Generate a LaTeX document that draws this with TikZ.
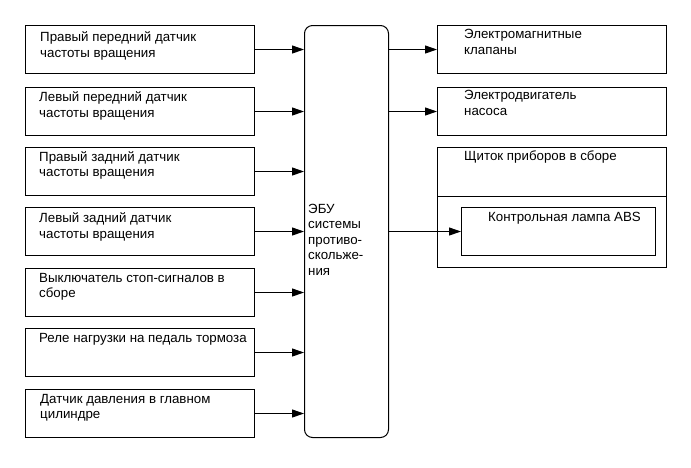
\documentclass[tikz,border=0pt]{standalone}
\usepackage{fontspec}
\setmainfont{Liberation Sans}
\usetikzlibrary{arrows.meta}
\begin{document}
\begin{tikzpicture}[x=1pt,y=-1pt,
  box/.style={draw,line width=1pt,minimum width=229pt,minimum height=48pt,anchor=north west,inner sep=0pt},
  txt/.style={anchor=base west,inner sep=0pt,align=left,font=\fontsize{13.3}{15.5}\selectfont},
  link/.style={line width=1pt,-{Triangle[length=12pt,width=8pt]}}]
\useasboundingbox[fill=white] (0,0) rectangle (691,467);
% inputs (text placed at baseline of last line)
\node[box] (rfs) at (25,25) {};
\node[txt] (rfst) at (40,57) {Правый передний датчик\\частоты вращения};
\node[box] (lfs) at (25,87) {};
\node[txt] (lfst) at (39,117) {Левый передний датчик\\частоты вращения};
\node[box] (rrs) at (25,147) {};
\node[txt] (rrst) at (39,176.5) {Правый задний датчик\\частоты вращения};
\node[box] (lrs) at (25,207) {};
\node[txt] (lrst) at (39,238) {Левый задний датчик\\частоты вращения};
\node[box] (stop) at (25,268) {};
\node[txt] (stopt) at (39,297.5) {Выключатель стоп-сигналов в\\сборе};
\node[box] (relay) at (25,328) {};
\node[txt] (relayt) at (39,342) {Реле нагрузки на педаль тормоза};
\node[box] (mcyl) at (25,389) {};
\node[txt] (mcylt) at (40,418.5) {Датчик давления в главном\\цилиндре};
% ECU
\node[draw,line width=1pt,rounded corners=8pt,minimum width=84pt,minimum height=412pt,anchor=north west] (ecu) at (304,25) {};
\node[txt] (ecut) at (308,275) {ЭБУ\\системы\\противо-\\скольже-\\ния};
% outputs
\node[box] (valves) at (437,25) {};
\node[txt] (valvest) at (464,54) {Электромагнитные\\клапаны};
\node[box] (pump) at (437,87) {};
\node[txt] (pumpt) at (464,115) {Электродвигатель\\насоса};
\node[box,minimum height=120pt] (panel) at (437,147) {};
\node[txt] (panelt) at (464,160) {Щиток приборов в сборе};
\draw[line width=1pt] ([yshift=-49pt]panel.north west) -- ([yshift=-49pt]panel.north east);
\node[box,minimum width=194pt] (lamp) at (461,207) {};
\node[txt] (lampt) at (488,221.5) {Контрольная лампа ABS};
% connectors
\foreach \s in {rfs,lfs,rrs,lrs,stop,relay,mcyl}
  \draw[link] (\s.east) -- (\s.east -| ecu.west);
\foreach \t in {valves,pump,lamp}
  \draw[link] (ecu.east |- \t.west) -- (\t.west);
\end{tikzpicture}
\end{document}
